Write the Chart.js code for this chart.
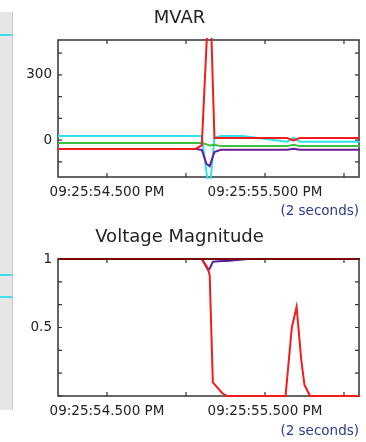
<!DOCTYPE html>
<html>
<head>
<meta charset="utf-8">
<script src="https://cdn.jsdelivr.net/npm/chart.js@4.4.1/dist/chart.umd.min.js"></script>
<style>
  body { margin: 0; background: #fff; width: 366px; height: 442px; overflow: hidden; position: relative; }
  .box { position: absolute; left: 0; width: 366px; height: 220px; }
  .box canvas { filter: blur(0.45px); }
  #strip { position: absolute; left: 0; top: 12px; width: 12px; height: 398px; background: #e6e6e6; border-right: 1px solid #c8c8c8; }
  .mark { position: absolute; left: 0; width: 12px; height: 2px; background: #3de0e8; }
</style>
</head>
<body>
<div id="strip">
  <div class="mark" style="top:22px"></div>
  <div class="mark" style="top:262px"></div>
  <div class="mark" style="top:284px"></div>
</div>
<div class="box" style="top:0"><canvas id="mvarChart"></canvas></div>
<div class="box" style="top:220px"><canvas id="voltChart"></canvas></div>
<script>
// seconds after 09:25:54
const X_MIN = 0.19;
const X_MAX = 2.095;
const xTicks = [0.5, 1.0, 1.5, 2.0];
const xTickLabels = { 0.5: '09:25:54.500 PM', 1.5: '09:25:55.500 PM' };
const xSpan = '(2 seconds)';

// MVAR
const mvarTimes  = [0.19, 1.06, 1.10, 1.13, 1.15, 1.18, 1.22, 1.36, 1.64, 1.68, 1.72, 2.1];
const mvarRed    = [-41, -41, -25, 440, 750, 9, 9, 9, 9, -2, 9, 9];
const mvarCyan   = [18, 18, 18, -150, -230, 10, 18, 18, -8, 12, -8, -8];
const mvarGreen  = [-14, -14, -14, -20, -25, -22, -28, -28, -28, -22, -28, -28];
const mvarPurple = [-41, -41, -45, -110, -120, -55, -45, -45, -45, -40, -45, -45];
const mvarYTicks = [-100, 0, 100, 200, 300, 400];
const mvarYLabels = { 0: '0', 300: '300' };

// Voltage Magnitude
const voltTimes   = [0.19, 1.10, 1.14, 1.15, 1.17, 1.23, 1.26, 1.39, 1.63, 1.67, 1.70, 1.73, 1.75, 1.785, 2.1];
const voltRed     = [1, 1, 0.93, 0.88, 0.1, 0.02, 0, 0, 0, 0.5, 0.65, 0.26, 0.08, 0, 0];
const voltPurple  = [1, 1, 0.92, 0.93, 0.98, 0.985, 0.985, 1, 1, 1, 1, 1, 1, 1, 1];
const voltDarkRed = [1, 1, 1, 1, 1, 1, 1, 1, 1, 1, 1, 1, 1, 1, 1];
const voltYTicks = [0, 1 / 6, 2 / 6, 0.5, 4 / 6, 5 / 6, 1];
const voltYLabels = { 0.5: '0.5', 1: '1' };

const FONT = { family: 'DejaVu Sans', size: 13.5 };

function pts(times, vals) {
  return times.map((t, i) => ({ x: t, y: vals[i] }));
}

function series(times, vals, color) {
  return {
    data: pts(times, vals),
    borderColor: color,
    borderWidth: 2,
    pointRadius: 0,
    tension: 0,
    clip: 2,
  };
}

// MATLAB style frame with inward tick marks
const frame = {
  id: 'frame',
  beforeDatasetsDraw(chart) {
    const { ctx, chartArea: a } = chart;
    const xs = chart.scales.x;
    const ys = chart.scales.y;
    ctx.save();
    ctx.strokeStyle = '#333';
    ctx.lineWidth = 1.5;
    ctx.strokeRect(a.left, a.top, a.right - a.left, a.bottom - a.top);
    ctx.lineWidth = 1.2;
    ctx.beginPath();
    xs.ticks.forEach((t) => {
      const px = xs.getPixelForValue(t.value);
      ctx.moveTo(px, a.bottom); ctx.lineTo(px, a.bottom - 4);
      ctx.moveTo(px, a.top); ctx.lineTo(px, a.top + 4);
    });
    ys.ticks.forEach((t) => {
      const py = ys.getPixelForValue(t.value);
      ctx.moveTo(a.left, py); ctx.lineTo(a.left + 4, py);
      ctx.moveTo(a.right, py); ctx.lineTo(a.right - 4, py);
    });
    ctx.stroke();
    ctx.restore();
  },
};

function makeChart(id, title, titlePad, datasets, yMin, yMax, yTicks, yLabels, axisH) {
  return new Chart(document.getElementById(id), {
    type: 'line',
    data: { datasets },
    options: {
      animation: false,
      responsive: true,
      maintainAspectRatio: false,
      layout: { padding: { left: 0, right: 7, top: 0, bottom: 0 } },
      plugins: {
        legend: { display: false },
        tooltip: { enabled: false },
        title: {
          display: true,
          text: title,
          color: '#222',
          font: { family: 'DejaVu Sans', size: 18, weight: 'normal' },
          padding: titlePad,
        },
      },
      scales: {
        x: {
          type: 'linear',
          min: X_MIN,
          max: X_MAX,
          grid: { display: false, drawTicks: false },
          border: { display: false },
          afterBuildTicks: (s) => { s.ticks = xTicks.map((v) => ({ value: v })); },
          afterFit: (s) => { s.height = axisH; },
          ticks: {
            color: '#222',
            font: FONT,
            padding: 7,
            maxRotation: 0,
            autoSkip: false,
            callback: (v) => xTickLabels[v] || '',
          },
          title: {
            display: true,
            text: xSpan,
            align: 'end',
            color: '#2a3c8c',
            font: FONT,
            padding: 0,
          },
        },
        y: {
          min: yMin,
          max: yMax,
          grid: { display: false, drawTicks: false },
          border: { display: false },
          afterBuildTicks: (s) => { s.ticks = yTicks.map((v) => ({ value: v })); },
          afterFit: (s) => { s.width = 58; },
          ticks: {
            color: '#222',
            font: FONT,
            padding: 6,
            autoSkip: false,
            callback: (v) => yLabels[v] || '',
          },
        },
      },
    },
    plugins: [frame],
  });
}

makeChart('mvarChart', 'MVAR', { top: 8, bottom: 10.4 }, [
  series(mvarTimes, mvarRed, '#f21c1c'),
  series(mvarTimes, mvarPurple, '#6a1b9a'),
  series(mvarTimes, mvarGreen, '#3cbf3c'),
  series(mvarTimes, mvarCyan, '#2ee3ea'),
], -170, 460, mvarYTicks, mvarYLabels, 43);

// dark red first so it sits on top along the 1.0 line
makeChart('voltChart', 'Voltage Magnitude', { top: 7, bottom: 10.4 }, [
  series(voltTimes, voltDarkRed, '#7a0a0a'),
  series(voltTimes, voltRed, '#f21c1c'),
  series(voltTimes, voltPurple, '#5a1fa0'),
], 0, 1, voltYTicks, voltYLabels, 44);
</script>
</body>
</html>
